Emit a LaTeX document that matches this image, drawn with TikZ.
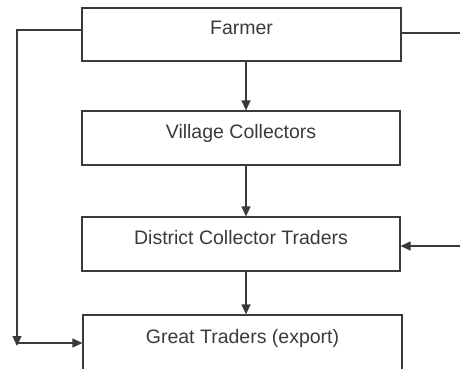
\documentclass[tikz,border=0pt]{standalone}
\usepackage{fontspec}
\setmainfont{Liberation Sans}
\usetikzlibrary{arrows.meta}
\definecolor{ink}{HTML}{3A3A3A}
\tikzset{
  box/.style={draw=ink, line width=1.2pt, rectangle, inner sep=0pt,
    text height=14pt, text depth=14pt, text=ink,
    font=\fontsize{19.5}{22}\selectfont},
  conn/.style={draw=ink, line width=1.2pt},
  arr/.style={conn, -{Triangle[length=10pt,width=9pt]}}
}
\begin{document}
\begin{tikzpicture}[x=1pt,y=-1pt]
\useasboundingbox (0,0) rectangle (460,369);
\node[box, minimum width=319pt, minimum height=53pt] (farmer) at (241.5,34.5) {Farmer};
\node[box, minimum width=318pt, minimum height=54pt] (village) at (241,138) {Village Collectors};
\node[box, minimum width=318pt, minimum height=54pt] (district) at (241,244) {District Collector Traders};
\node[box, minimum width=319pt, minimum height=56pt] (great) at (242.5,343) {Great Traders (export)};
\coordinate (corner) at (17,343);
\coordinate (rin) at (465,246);
\draw[arr] ([xshift=4.5pt]farmer.south) -- ([xshift=4.5pt]farmer.south |- village.north);
\draw[arr] ([xshift=5pt]village.south) -- ([xshift=5pt]village.south |- district.north);
\draw[arr] ([xshift=5pt]district.south) -- ([xshift=5pt]district.south |- great.north);
\draw[arr] ([yshift=4.5pt]farmer.west) -| ([yshift=-3pt]corner);
\draw[arr] (corner) -- (great.west);
\draw[conn] ([yshift=1.5pt]farmer.east) -- ++(70,0);
\draw[arr] (rin) -- (rin -| district.east);
\end{tikzpicture}
\end{document}
